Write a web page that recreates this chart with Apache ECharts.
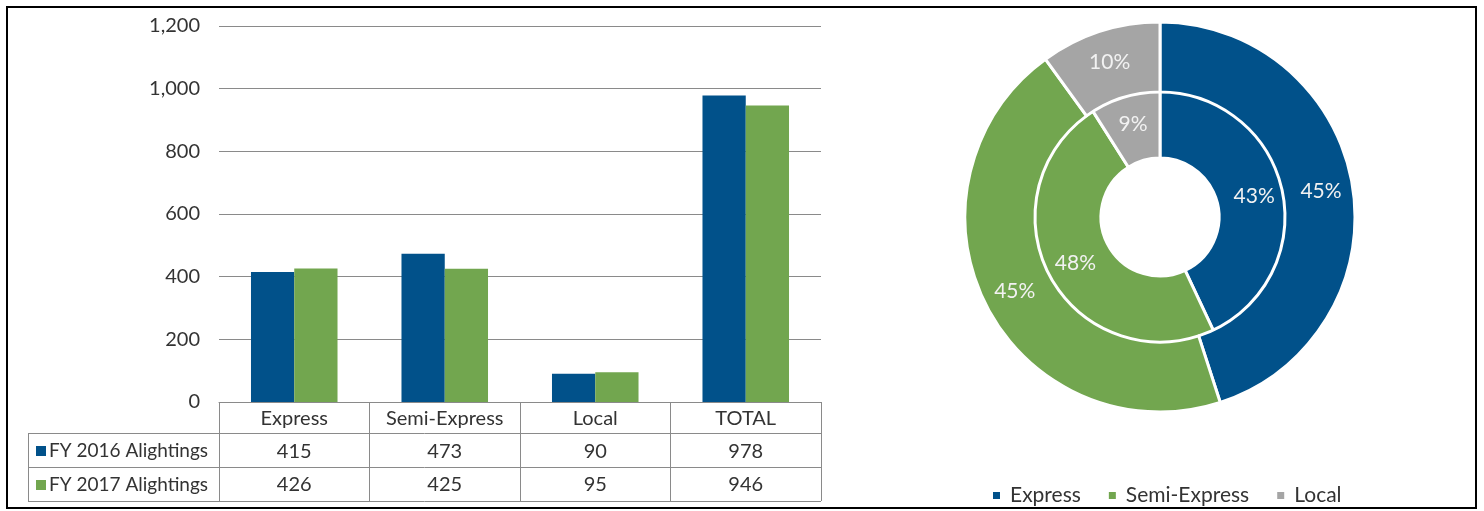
<!DOCTYPE html>
<html>
<head>
<meta charset="utf-8">
<script src="https://cdn.jsdelivr.net/npm/echarts@6/dist/echarts.min.js"></script>
<style>
  html, body { margin: 0; padding: 0; background: #fff; }
  #frame { position: absolute; left: 6px; top: 6px; width: 1467px; height: 499px; border: 2px solid #000; }
  #chart { position: absolute; left: 0; top: 0; width: 1484px; height: 511px; }
</style>
</head>
<body>
<div id="chart"></div>
<div id="frame"></div>
<script>
// Alightings by service type
const categories = ['Express', 'Semi-Express', 'Local', 'TOTAL'];
const fy2016 = [415, 473, 90, 978];
const fy2017 = [426, 425, 95, 946];
const seriesNames = ['FY 2016 Alightings', 'FY 2017 Alightings'];
const yTicks = [0, 200, 400, 600, 800, 1000, 1200];

// Service shares (percent) for the rings: inner = FY 2016, outer = FY 2017
const shareTypes = ['Express', 'Semi-Express', 'Local'];
const share2016 = [43, 48, 9];
const share2017 = [45, 45, 10];

const BLUE = '#01518A';
const GREEN = '#72A64F';
const GRAY = '#A5A5A5';
const FONT = 'Lato, "Open Sans", sans-serif';
const TEXT = '#333333';
const RULE = '#8a8a8a';
const FS = 20;

const grid = { left: 219, right: 663, top: 26, bottom: 109 };

const chart = echarts.init(document.getElementById('chart'));

const option = {
  animation: false,
  backgroundColor: '#fff',
  textStyle: { fontFamily: FONT },
  grid: grid,
  xAxis: {
    type: 'category',
    data: categories,
    axisLine: { show: true, lineStyle: { color: RULE, width: 1 } },
    axisTick: { show: true, interval: 0, length: 99, lineStyle: { color: RULE, width: 1 } },
    axisLabel: {
      interval: 0,
      hideOverlap: false,
      margin: 0,
      fontSize: FS,
      fontFamily: FONT,
      color: TEXT,
      lineHeight: 33,
      verticalAlign: 'top',
      formatter: function (v, i) {
        return v + '\n' + fy2016[i] + '\n' + fy2017[i];
      }
    }
  },
  yAxis: {
    type: 'value',
    min: yTicks[0],
    max: yTicks[yTicks.length - 1],
    interval: 200,
    axisLine: { show: false },
    axisTick: { show: false },
    axisLabel: {
      margin: 19,
      fontSize: FS,
      fontFamily: FONT,
      color: TEXT,
      formatter: function (v) { return v.toLocaleString('en-US'); }
    },
    splitLine: { lineStyle: { color: RULE, width: 1 } }
  },
  legend: {
    data: shareTypes,
    left: 986,
    top: 480,
    icon: 'rect',
    itemWidth: 9,
    itemHeight: 9,
    itemGap: 26,
    textStyle: { fontSize: 21, fontFamily: FONT, color: TEXT, padding: [0, 0, 0, 4] }
  },
  series: [
    {
      name: seriesNames[0],
      type: 'bar',
      data: fy2016,
      itemStyle: { color: BLUE },
      barGap: '0%',
      barCategoryGap: '42.5%'
    },
    {
      name: seriesNames[1],
      type: 'bar',
      data: fy2017,
      itemStyle: { color: GREEN }
    },
    {
      name: 'FY 2016',
      type: 'pie',
      center: [1160, 217],
      radius: [59, 128],
      startAngle: 90,
      clockwise: true,
      avoidLabelOverlap: false,
      itemStyle: { borderColor: '#fff', borderWidth: 3 },
      label: {
        position: 'inside',
        formatter: '{c}%',
        fontSize: 21,
        fontFamily: FONT,
        color: '#f2f2f2'
      },
      labelLine: { show: false },
      emphasis: { disabled: true },
      data: shareTypes.map(function (n, i) {
        return { name: n, value: share2016[i], itemStyle: { color: [BLUE, GREEN, GRAY][i] } };
      })
    },
    {
      name: 'FY 2017',
      type: 'pie',
      center: [1160, 217],
      radius: [125, 195],
      startAngle: 90,
      clockwise: true,
      avoidLabelOverlap: false,
      itemStyle: { borderColor: '#fff', borderWidth: 3 },
      label: {
        position: 'inside',
        formatter: '{c}%',
        fontSize: 21,
        fontFamily: FONT,
        color: '#f2f2f2'
      },
      labelLine: { show: false },
      emphasis: { disabled: true },
      data: shareTypes.map(function (n, i) {
        return { name: n, value: share2017[i], itemStyle: { color: [BLUE, GREEN, GRAY][i] } };
      })
    }
  ]
};

chart.setOption(option);

// Data table rules and row headers, placed from the axis geometry
(function () {
  const x0 = chart.convertToPixel({ xAxisIndex: 0 }, categories[0]);
  const x1 = chart.convertToPixel({ xAxisIndex: 0 }, categories[1]);
  const band = x1 - x0;
  const tableRight = x0 - band / 2 + band * categories.length;
  const base = chart.convertToPixel({ yAxisIndex: 0 }, 0);
  const headerH = 31;
  const rowH = 34;
  const tableLeft = 28;
  const rowTops = [base + headerH, base + headerH + rowH, base + headerH + 2 * rowH];
  const els = [];
  rowTops.forEach(function (y) {
    els.push({ type: 'line', shape: { x1: tableLeft, y1: Math.round(y) + 0.5, x2: tableRight, y2: Math.round(y) + 0.5 },
      style: { stroke: RULE, lineWidth: 1 }, silent: true });
  });
  els.push({ type: 'line', shape: { x1: tableLeft + 0.5, y1: Math.round(rowTops[0]), x2: tableLeft + 0.5, y2: Math.round(rowTops[2]) },
    style: { stroke: RULE, lineWidth: 1 }, silent: true });
  [BLUE, GREEN].forEach(function (c, i) {
    const cy = rowTops[i] + rowH / 2;
    els.push({ type: 'rect', shape: { x: 36, y: Math.round(cy - 4), width: 10, height: 10 }, style: { fill: c }, silent: true });
    els.push({ type: 'text', x: 49, y: cy + 1, silent: true,
      style: { text: seriesNames[i], fontSize: 19, fontFamily: FONT, fill: TEXT, verticalAlign: 'middle', align: 'left' } });
  });
  chart.setOption({ graphic: els });
})();
</script>
</body>
</html>
